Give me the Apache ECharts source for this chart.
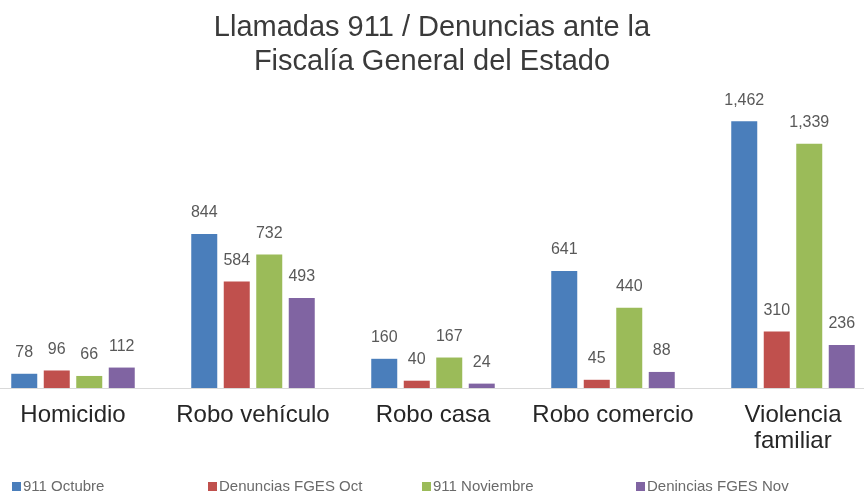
<!DOCTYPE html>
<html>
<head>
<meta charset="utf-8">
<script src="https://cdn.jsdelivr.net/npm/echarts@6/dist/echarts.min.js"></script>
<style>
  html, body { margin: 0; padding: 0; background: #fff; }
  #grafico { width: 864px; height: 500px; }
</style>
</head>
<body>
<div id="grafico"></div>
<script>
// datos del grafico
var categorias = ['Homicidio', 'Robo vehículo', 'Robo casa', 'Robo comercio', 'Violencia\nfamiliar'];
var llamadasOct = [78, 844, 160, 641, 1462];
var denunciasOct = [96, 584, 40, 45, 310];
var llamadasNov = [66, 732, 167, 440, 1339];
var denunciasNov = [112, 493, 24, 88, 236];
var nombres = ['911 Octubre', 'Denuncias FGES Oct', '911 Noviembre', 'Denincias FGES Nov'];

var colores = ['#4a7ebb', '#c0504d', '#9bbb59', '#8064a2'];
var valores = [llamadasOct, denunciasOct, llamadasNov, denunciasNov];

// formato con coma de miles
function formatoNum(v) {
  return v.toString().replace(/\B(?=(\d{3})+(?!\d))/g, ',');
}

var series = nombres.map(function (n, i) {
  return {
    name: n,
    type: 'bar',
    data: valores[i],
    barWidth: 26,
    barGap: '25%',
    itemStyle: { color: colores[i] },
    label: {
      show: true,
      position: 'top',
      distance: 13,
      color: '#595959',
      fontFamily: 'Liberation Sans',
      fontSize: 16,
      formatter: function (p) { return formatoNum(p.value); }
    }
  };
});

// una leyenda por serie para ubicarlas como en el original
var posLeyenda = [7, 203, 417, 631];
var leyendas = nombres.map(function (n, i) {
  return {
    data: [n],
    left: posLeyenda[i],
    bottom: 1,
    itemWidth: 9,
    itemHeight: 9,
    icon: 'rect',
    textStyle: { color: '#6a6a6a', fontSize: 15, fontFamily: 'Liberation Sans', padding: [0, 0, 0, -3] }
  };
});

var chart = echarts.init(document.getElementById('grafico'));
chart.setOption({
  backgroundColor: '#ffffff',
  animation: false,
  title: {
    text: 'Llamadas 911 / Denuncias ante la\nFiscalía General del Estado',
    left: 'center',
    top: 6,
    textStyle: {
      fontFamily: 'Liberation Sans',
      fontWeight: 'normal',
      fontSize: 29,
      lineHeight: 34,
      color: '#3a3a3a'
    }
  },
  legend: leyendas,
  grid: { left: -17, width: 900, top: 96, bottom: 112, outerBoundsMode: 'none', containLabel: false },
  xAxis: {
    type: 'category',
    data: categorias,
    axisTick: { show: false },
    axisLine: { show: true, lineStyle: { color: '#d9d9d9' } },
    axisLabel: {
      interval: 0,
      margin: 14,
      color: '#262626',
      fontFamily: 'Liberation Sans',
      fontSize: 24,
      lineHeight: 26
    }
  },
  yAxis: {
    type: 'value',
    min: 0,
    max: 1600,
    show: false,
    splitLine: { show: false }
  },
  series: series
});
</script>
</body>
</html>
